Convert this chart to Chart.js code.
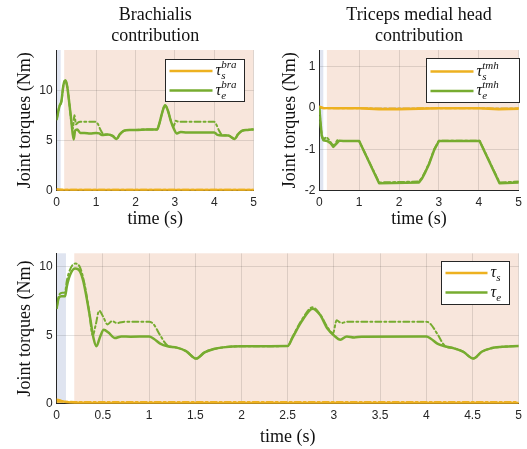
<!DOCTYPE html>
<html>
<head>
<meta charset="utf-8">
<script src="https://cdn.jsdelivr.net/npm/chart.js@4"></script>
<style>
body { margin: 0; background: #fff; }
#wrap { position: relative; width: 527px; height: 449px; }
canvas { position: absolute; }
</style>
</head>
<body>
<div id="wrap">
  <canvas id="c1" width="262" height="232" style="left:0;top:0"></canvas>
  <canvas id="c2" width="265" height="232" style="left:262px;top:0"></canvas>
  <canvas id="c3" width="527" height="229" style="left:0;top:220px"></canvas>
</div>
<script>
// tick labels
var xTicksTop = [0, 1, 2, 3, 4, 5];
var xTicksBottom = [0, 0.5, 1, 1.5, 2, 2.5, 3, 3.5, 4, 4.5, 5];
var yTicksBra = [0, 5, 10];
var yTicksTmh = [-2, -1, 0, 1];
var yTicksTot = [0, 5, 10];

// shaded phases (time, s)
var phaseStart = [0, 0.19];
var phaseEnd = [0.1, 5];

// brachialis contribution
var braT = [0, 0.07, 0.12, 0.17, 0.22, 0.27, 0.32, 0.37, 0.43, 0.47, 0.52, 0.6, 0.7, 0.85, 1.0, 1.08, 1.15, 1.3, 1.42, 1.52, 1.6, 1.7, 1.85, 2.0, 2.3, 2.55, 2.6, 2.68, 2.75, 2.82, 2.9, 2.97, 3.05, 3.15, 3.3, 3.6, 4.0, 4.08, 4.2, 4.35, 4.52, 4.6, 4.7, 4.85, 5.0];
var braTauE = [7.1, 8.4, 8.9, 10.5, 11.0, 10.3, 8.7, 7.0, 5.1, 6.0, 6.1, 5.75, 5.75, 5.7, 5.75, 5.7, 5.55, 5.6, 5.45, 5.15, 5.6, 5.95, 6.05, 6.05, 6.1, 6.1, 6.6, 7.8, 8.5, 8.0, 6.9, 6.2, 5.7, 5.85, 5.8, 5.8, 5.8, 5.55, 5.5, 5.5, 5.15, 5.6, 5.95, 6.05, 6.1];
var braDashT = [0, 0.07, 0.12, 0.17, 0.22, 0.27, 0.32, 0.37, 0.41, 0.45, 0.49, 0.53, 0.6, 0.8, 1.0, 1.05, 1.12, 1.2, 1.3, 1.42, 1.52, 1.6, 1.7, 1.85, 2.0, 2.3, 2.55, 2.6, 2.68, 2.75, 2.82, 2.9, 2.97, 3.02, 3.1, 3.5, 4.0, 4.05, 4.12, 4.2, 4.35, 4.52, 4.6, 4.7, 4.85, 5.0];
var braTauEDash = [7.1, 8.4, 8.9, 10.5, 11.0, 10.3, 8.7, 6.9, 6.2, 7.5, 6.6, 6.75, 6.85, 6.85, 6.85, 6.6, 6.0, 5.6, 5.6, 5.45, 5.15, 5.6, 5.95, 6.05, 6.05, 6.1, 6.1, 6.6, 7.8, 8.5, 8.0, 6.95, 6.4, 6.95, 6.85, 6.85, 6.85, 6.6, 6.0, 5.55, 5.5, 5.15, 5.6, 5.95, 6.05, 6.1];
var braST = [0, 0.1, 0.3, 1, 2, 3, 4, 5];
var braTauS = [0.15, 0.1, 0.08, 0.08, 0.08, 0.08, 0.08, 0.08];
var braTauSDash = [0.1, 0.1, 0.1, 0.1, 0.1, 0.1, 0.1, 0.1];

// triceps medial head contribution
var tmhT = [0, 0.03, 0.06, 0.1, 0.2, 0.28, 0.35, 0.43, 0.5, 0.6, 1.0, 1.5, 2.5, 2.58, 2.66, 2.76, 2.88, 3.0, 4.02, 4.52, 5.0];
var tmhTauE = [0, -0.35, -0.66, -0.78, -0.8, -0.85, -0.94, -0.86, -0.79, -0.8, -0.8, -1.82, -1.8, -1.7, -1.55, -1.34, -1.02, -0.8, -0.8, -1.82, -1.8];
var tmhDashT = [0, 0.03, 0.07, 0.12, 0.18, 0.25, 0.32, 0.38, 0.45, 0.5, 0.6, 1.0, 1.5, 2.5, 2.58, 2.66, 2.76, 2.88, 3.0, 4.02, 4.52, 5.0];
var tmhTauEDash = [0, -0.4, -0.72, -0.75, -0.7, -0.78, -0.88, -0.9, -0.78, -0.8, -0.8, -0.8, -1.8, -1.78, -1.68, -1.53, -1.32, -1.0, -0.79, -0.79, -1.8, -1.78];
var tmhST = [0, 0.1, 0.5, 1.0, 1.5, 2.0, 2.5, 3.0, 4.0, 4.5, 5.0];
var tmhTauS = [0.03, 0.0, -0.01, -0.01, -0.03, -0.03, -0.02, -0.01, -0.01, -0.03, -0.02];
var tmhTauSDash = [0.01, -0.005, -0.005, -0.005, -0.015, -0.015, -0.01, -0.005, -0.005, -0.015, -0.01];

// total joint torques
var totT = [0, 0.02, 0.05, 0.09, 0.11, 0.15, 0.2, 0.25, 0.29, 0.36, 0.4, 0.43, 0.47, 0.51, 0.56, 0.63, 0.7, 0.8, 1.0, 1.05, 1.12, 1.2, 1.3, 1.4, 1.51, 1.6, 1.7, 1.8, 2.0, 2.5, 2.55, 2.65, 2.77, 2.85, 2.93, 3.0, 3.07, 3.14, 3.22, 3.3, 4.0, 4.05, 4.12, 4.2, 4.3, 4.4, 4.51, 4.6, 4.7, 4.8, 5.0];
var totTauE = [7.0, 7.7, 7.85, 7.85, 8.6, 9.5, 9.88, 9.7, 8.9, 6.35, 4.75, 4.2, 4.9, 5.4, 5.2, 4.8, 4.92, 4.9, 4.92, 4.75, 4.4, 4.2, 4.1, 3.85, 3.3, 3.75, 4.0, 4.12, 4.2, 4.22, 4.8, 6.0, 6.95, 6.5, 5.5, 5.0, 4.68, 4.92, 4.85, 4.9, 4.92, 4.75, 4.4, 4.2, 4.05, 3.8, 3.3, 3.8, 4.05, 4.15, 4.22];
var totDashT = [0, 0.02, 0.05, 0.09, 0.11, 0.15, 0.2, 0.25, 0.3, 0.35, 0.39, 0.42, 0.46, 0.5, 0.55, 0.6, 0.65, 0.75, 1.0, 1.05, 1.12, 1.2, 1.3, 1.4, 1.51, 1.6, 1.7, 1.8, 2.0, 2.5, 2.55, 2.65, 2.77, 2.85, 2.93, 2.99, 3.03, 3.08, 3.15, 4.0, 4.05, 4.12, 4.2, 4.3, 4.4, 4.51, 4.6, 4.7, 4.8, 5.0];
var totTauEDash = [7.0, 7.8, 8.1, 8.15, 9.0, 9.9, 10.25, 10.0, 8.8, 6.8, 5.0, 5.7, 6.8, 6.4, 5.8, 6.05, 5.9, 6.0, 6.0, 5.8, 5.0, 4.25, 4.1, 3.85, 3.3, 3.75, 4.0, 4.12, 4.2, 4.22, 4.85, 6.1, 7.05, 6.55, 5.6, 5.15, 6.1, 5.9, 6.0, 6.0, 5.8, 5.1, 4.25, 4.05, 3.8, 3.3, 3.8, 4.05, 4.15, 4.22];
var totST = [0, 0.05, 0.1, 0.2, 0.5, 1, 2, 3, 4, 5];
var totTauS = [0.3, 0.2, 0.12, 0.07, 0.06, 0.06, 0.06, 0.06, 0.06, 0.06];
var totTauSDash = [0.15, 0.15, 0.14, 0.13, 0.12, 0.12, 0.12, 0.12, 0.12, 0.12];

// legend text: [subscript, superscript]
var legBra = [['s', 'bra'], ['e', 'bra']];
var legTmh = [['s', 'tmh'], ['e', 'tmh']];
var legTot = [['s', ''], ['e', '']];

var GREEN = '#77ac30', ORANGE = '#edb120';
var SERIF = '"Liberation Serif", "Times New Roman", serif';
var SANS = '"Liberation Sans", Arial, sans-serif';

function pts(t, y) {
  return t.map(function(v, i) { return { x: v, y: y[i] }; });
}

var decor = {
  id: 'decor',
  beforeDraw: function(chart) {
    var ctx = chart.ctx, a = chart.chartArea, xs = chart.scales.x;
    var fills = ['#dfe4f0', '#f8e6dc'];
    ctx.save();
    for (var i = 0; i < phaseStart.length; i++) {
      var x0 = xs.getPixelForValue(phaseStart[i]), x1 = xs.getPixelForValue(phaseEnd[i]);
      ctx.fillStyle = fills[i];
      ctx.fillRect(x0, a.top, x1 - x0, a.bottom - a.top);
    }
    ctx.restore();
  },
  afterDraw: function(chart, args, o) {
    var ctx = chart.ctx, a = chart.chartArea;
    var cx = (a.left + a.right) / 2;
    ctx.save();
    ctx.fillStyle = '#111';
    ctx.textAlign = 'center';
    ctx.textBaseline = 'middle';
    ctx.font = '18px ' + SERIF;
    (o.title || []).forEach(function(line, i) { ctx.fillText(line, cx, o.titleY + i * 21); });
    ctx.fillText('time (s)', cx, o.xLabelY);
    ctx.save();
    ctx.translate(o.yLabelX, (a.top + a.bottom) / 2);
    ctx.rotate(-Math.PI / 2);
    ctx.fillText('Joint torques (Nm)', 0, 0);
    ctx.restore();

    // legend box
    var L = o.legend;
    var bx = Math.round(a.right - L.right - L.w) + 0.5, by = Math.round(a.top + L.top) + 0.5;
    ctx.fillStyle = '#fff';
    ctx.fillRect(bx, by, L.w, L.h);
    ctx.strokeStyle = '#262626';
    ctx.lineWidth = 1;
    ctx.strokeRect(bx, by, L.w, L.h);
    var colors = [ORANGE, GREEN];
    ctx.textAlign = 'left';
    ctx.textBaseline = 'alphabetic';
    for (var i = 0; i < 2; i++) {
      var ly = by + L.row0 + i * L.rowGap;
      ctx.strokeStyle = colors[i];
      ctx.lineWidth = 2.5;
      ctx.beginPath();
      ctx.moveTo(bx + 4, ly);
      ctx.lineTo(bx + 4 + L.lineLen, ly);
      ctx.stroke();
      var tx = bx + 4 + L.lineLen + 3;
      ctx.fillStyle = '#111';
      ctx.font = 'italic 16px ' + SERIF;
      ctx.fillText('\u03c4', tx, ly + 4);
      var tw = ctx.measureText('\u03c4').width;
      ctx.font = 'italic 11px ' + SERIF;
      ctx.fillText(L.labels[i][0], tx + tw, ly + 8);
      if (L.labels[i][1]) ctx.fillText(L.labels[i][1], tx + tw, ly - 3);
    }
    ctx.restore();
  }
};

function makeScales(xTicks, yTicks, yMin, yMax, yW, xH) {
  var tickFont = { family: SANS, size: 12 };
  var fmt = function(v) { return String(v); };
  return {
    x: {
      type: 'linear', min: 0, max: 5,
      afterBuildTicks: function(s) { s.ticks = xTicks.map(function(v) { return { value: v }; }); },
      afterFit: function(s) { s.height = xH; },
      grid: { color: 'rgba(0,0,0,0.11)', drawTicks: false },
      border: { color: '#262626', width: 1 },
      ticks: { padding: 5, color: '#262626', font: tickFont, maxRotation: 0, autoSkip: false, callback: fmt }
    },
    y: {
      type: 'linear', min: yMin, max: yMax,
      afterBuildTicks: function(s) { s.ticks = yTicks.map(function(v) { return { value: v }; }); },
      afterFit: function(s) { s.width = yW; },
      grid: { color: 'rgba(0,0,0,0.11)', drawTicks: false },
      border: { color: '#262626', width: 1 },
      ticks: { padding: 4, color: '#262626', font: tickFont, autoSkip: false, callback: fmt }
    }
  };
}

function makeDatasets(sT, s, sDash, eT, e, eDashT, eDash, smooth) {
  var base = { pointRadius: 0, borderCapStyle: 'round', borderJoinStyle: 'round' };
  if (smooth) base.cubicInterpolationMode = 'monotone'; else base.tension = 0;
  return [
    Object.assign({ label: 'tau_s', data: pts(sT, s), borderColor: ORANGE, borderWidth: 2.5, order: 4 }, base),
    Object.assign({ label: 'tau_e', data: pts(eT, e), borderColor: GREEN, borderWidth: 2.5, order: 3 }, base),
    Object.assign({ label: 'tau_s ref', data: pts(sT, sDash), borderColor: ORANGE, borderWidth: 2, borderDash: [6, 3, 2, 3], order: 2 }, base),
    Object.assign({ label: 'tau_e ref', data: pts(eDashT, eDash), borderColor: GREEN, borderWidth: 2, borderDash: [6, 3, 2, 3], order: 1 }, base)
  ];
}

function makeChart(id, datasets, scales, padding, deco) {
  return new Chart(document.getElementById(id), {
    type: 'line',
    data: { datasets: datasets },
    options: {
      responsive: false,
      animation: false,
      layout: { padding: padding },
      scales: scales,
      plugins: { legend: { display: false }, tooltip: { enabled: false }, decor: deco }
    },
    plugins: [decor]
  });
}

makeChart('c1',
  makeDatasets(braST, braTauS, braTauSDash, braT, braTauE, braDashT, braTauEDash, true),
  makeScales(xTicksTop, yTicksBra, 0, 14, 56.7, 41.3),
  { left: 0, right: 5.3, top: 50, bottom: 0 },
  { title: ['Brachialis', 'contribution'], titleY: 15, xLabelY: 219, yLabelX: 25,
    legend: { right: 10, top: 8.5, w: 79, h: 42, row0: 11.5, rowGap: 19.5, lineLen: 43, labels: legBra } });

makeChart('c2',
  makeDatasets(tmhST, tmhTauS, tmhTauSDash, tmhT, tmhTauE, tmhDashT, tmhTauEDash, false),
  makeScales(xTicksTop, yTicksTmh, -2, 1.4, 57.3, 41.3),
  { left: 0, right: 7, top: 50, bottom: 0 },
  { title: ['Triceps medial head', 'contribution'], titleY: 15, xLabelY: 219, yLabelX: 28,
    legend: { right: 0, top: 7.5, w: 93, h: 44, row0: 13, rowGap: 19.5, lineLen: 43, labels: legTmh } });

makeChart('c3',
  makeDatasets(totST, totTauS, totTauSDash, totT, totTauE, totDashT, totTauEDash, true),
  makeScales(xTicksBottom, yTicksTot, 0, 11, 56.7, 45.3),
  { left: 0, right: 7, top: 33.3, bottom: 0 },
  { title: [], titleY: 0, xLabelY: 217, yLabelX: 25,
    legend: { right: 10, top: 7.7, w: 68, h: 43, row0: 11.5, rowGap: 19.5, lineLen: 42, labels: legTot } });
</script>
</body>
</html>
